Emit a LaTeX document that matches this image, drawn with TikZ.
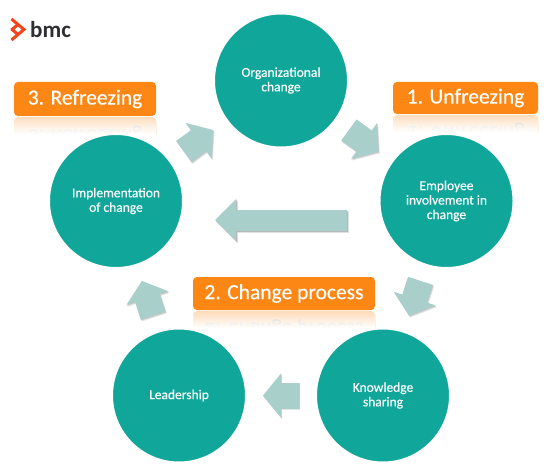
\documentclass[tikz,border=0pt]{standalone}
\usepackage{fontspec}
\setmainfont{Carlito}
\newfontfamily\labelfont[FakeBold=0.3]{Carlito}
\usetikzlibrary{arrows.meta,shadows}
\definecolor{circleteal}{HTML}{10A69A}
\definecolor{orng}{HTML}{FD8715}
\definecolor{blockarrow}{HTML}{A9CFCA}
\definecolor{logored}{HTML}{F4431C}
\definecolor{logotext}{HTML}{2E2E33}
\newcommand{\reflbox}[6]{% x1,y1(top),x2,y2(bottom),name,text
  \begin{scope}
    \clip (#1,#4+0.5) rectangle (#3,#4+18);
    \fill[orng,rounded corners=4pt] (#1,#4+1) rectangle (#3,2*#4-#2+1);
    \node[boxlabel,yscale=-1,transform shape] at ({(#1+#3)/2},{#4+1+(#4-#2)/2+1}) {#6};
    \foreach \k in {0,...,17}{
      \fill[white,opacity={min(1,0.70+0.018*\k)}] (#1-1,#4+0.5+\k) rectangle (#3+1,#4+1.5+\k);
    }
  \end{scope}
  \node[orangebox,minimum width={(#3-#1)*1pt},minimum height={(#4-#2)*1pt}] (#5) at ({(#1+#3)/2},{(#2+#4)/2}) {\raisebox{-1.6pt}{#6}};
}
\tikzset{
  x=1pt,y=-1pt,
  stage/.style={circle,fill=circleteal,draw=white,line width=4pt,minimum size=136pt,inner sep=0pt,outer sep=4pt,
    align=center,text=white,font=\labelfont\fontsize{13.5}{14.5}\selectfont,
    general shadow={fill=black!30,opacity=0.4,shadow xshift=0.6pt,shadow yshift=-1pt,scale=1.05}},
  orangebox/.style={fill=orng,rounded corners=4pt,inner sep=0pt,outer sep=0pt,text=white,font=\labelfont\fontsize{21.5}{24}\selectfont},
  boxlabel/.style={inner sep=0pt,text=black!70,font=\labelfont\fontsize{21.5}{24}\selectfont},
  blockflow/.style={draw=#1,line width=26pt,-{Triangle[length=18pt,width=44pt,color=#1,line width=0pt]},shorten <=12pt,shorten >=12pt},
  longflow/.style={draw=#1,line width=21pt,-{Triangle[length=21pt,width=42pt,color=#1,line width=0pt]}},
  nudge/.style={transform canvas={shift={(#1)}}},
}
\begin{document}
\begin{tikzpicture}
\useasboundingbox (0,0) rectangle (551,476);
\fill[white] (0,0) rectangle (551,476);

% logo
\begin{scope}[logored,line width=3pt,line join=miter]
  \draw (11.5,19) -- (24,29.5) -- (11.5,40);
  \draw (11.5,30) -- (18,24.5) (11.5,29) -- (18,34.5);
\end{scope}
\node[anchor=west,inner sep=0pt,text=logotext,font=\fontsize{23}{24}\selectfont\bfseries] (logo) at (30,30) {bmc};

% circles
\node[stage] (org) at (281,80.5) {Organizational\\change};
\node[stage] (emp) at (446.5,201) {Employee\\involvement in\\change};
\node[stage] (imp) at (116,201) {Implementation\\of change};
\node[stage] (lead) at (179,395.5) {Leadership};
\node[stage] (know) at (383,395.5) {Knowledge\\sharing};

% block arrows
\coordinate (longstart) at (347,220);
\coordinate (longend) at (215,220);
\foreach \a/\b in {org/emp,emp/know,know/lead,lead/imp,imp/org}{
  \draw[blockflow=black!10,nudge={1.2pt,-1.8pt}] (\a) -- (\b);
  \draw[blockflow=black!22,nudge={0.6pt,-0.9pt}] (\a) -- (\b);
  \draw[blockflow=blockarrow] (\a) -- (\b);
}
\draw[longflow=black!12,nudge={2pt,-2.5pt}] (longstart) -- (longend);
\draw[longflow=black!28,nudge={1pt,-1.2pt}] (longstart) -- (longend);
\draw[longflow=blockarrow] (longstart) -- (longend);

% orange boxes
\reflbox{14}{82}{156}{116}{refreeze}{3. Refreezing}
\reflbox{393}{82}{538}{114}{unfreeze}{1. Unfreezing}
\reflbox{193}{277}{375}{310}{process}{2. Change process}
\end{tikzpicture}
\end{document}
